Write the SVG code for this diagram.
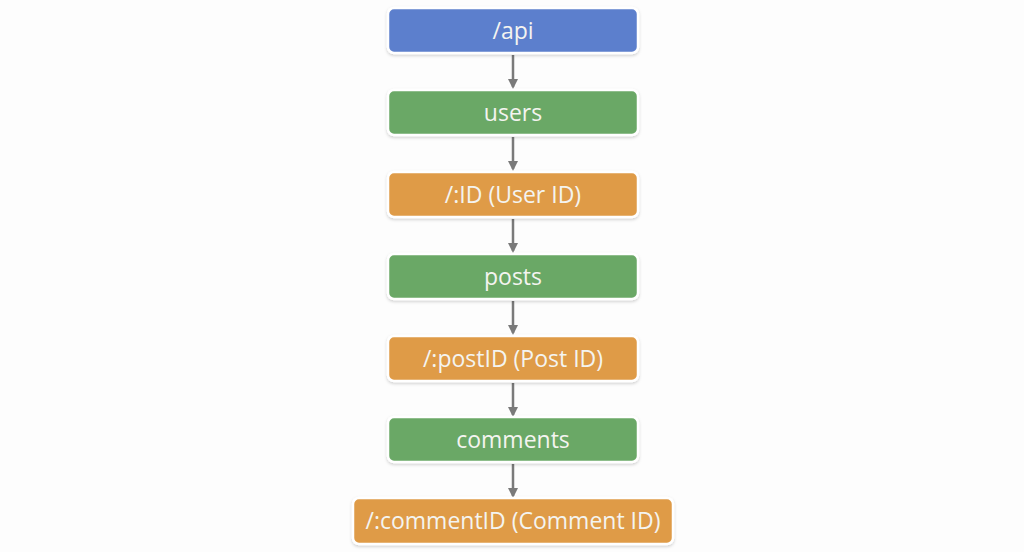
<svg xmlns="http://www.w3.org/2000/svg" width="1024" height="552" viewBox="0 0 1024 552">
<style>
.box{stroke:#ffffff;stroke-width:2.5;filter:url(#sh)}
.blue{fill:#5c7fcd}
.green{fill:#6aa866}
.orange{fill:#df9b47}
.lbl{font-family:"Open Sans","Liberation Sans",sans-serif;font-size:23px;fill:#f4f4f0;text-anchor:middle;dominant-baseline:central}
.conn{stroke:#7a7a7a;stroke-width:2.5;fill:none;marker-end:url(#ah)}
</style>
<defs>
<filter id="sh" x="-10%" y="-30%" width="120%" height="160%">
<feDropShadow dx="0" dy="1.5" stdDeviation="1.5" flood-color="#000" flood-opacity="0.18"/>
</filter>
<marker id="ah" markerWidth="10" markerHeight="10" refX="8" refY="5" orient="auto" markerUnits="userSpaceOnUse">
<path d="M0,0 L10,5 L0,10 Z" fill="#7a7a7a"/>
</marker>
</defs>
<rect width="1024" height="552" fill="#fdfdfd"/>
<g id="connectors">
<line class="conn" x1="513" y1="55" x2="513" y2="87"/>
<line class="conn" x1="513" y1="137" x2="513" y2="169"/>
<line class="conn" x1="513" y1="219" x2="513" y2="251"/>
<line class="conn" x1="513" y1="301" x2="513" y2="333"/>
<line class="conn" x1="513" y1="383" x2="513" y2="415"/>
<line class="conn" x1="513" y1="464" x2="513" y2="496"/>
</g>
<g id="api"><rect class="box blue" x="388" y="8" width="250" height="45" rx="6"/><text class="lbl" x="513" y="30">/api</text></g>
<g id="users"><rect class="box green" x="388" y="90" width="250" height="45" rx="6"/><text class="lbl" x="513" y="112">users</text></g>
<g id="userId"><rect class="box orange" x="388" y="172" width="250" height="45" rx="6"/><text class="lbl" x="513" y="194">/:ID (User ID)</text></g>
<g id="posts"><rect class="box green" x="388" y="254" width="250" height="45" rx="6"/><text class="lbl" x="513" y="276">posts</text></g>
<g id="postId"><rect class="box orange" x="388" y="336" width="250" height="45" rx="6"/><text class="lbl" x="513" y="358">/:postID (Post ID)</text></g>
<g id="comments"><rect class="box green" x="388" y="417" width="250" height="45" rx="6"/><text class="lbl" x="513" y="439">comments</text></g>
<g id="commentId"><rect class="box orange" x="353" y="498" width="320" height="46" rx="6"/><text class="lbl" x="513" y="520">/:commentID (Comment ID)</text></g>
</svg>
